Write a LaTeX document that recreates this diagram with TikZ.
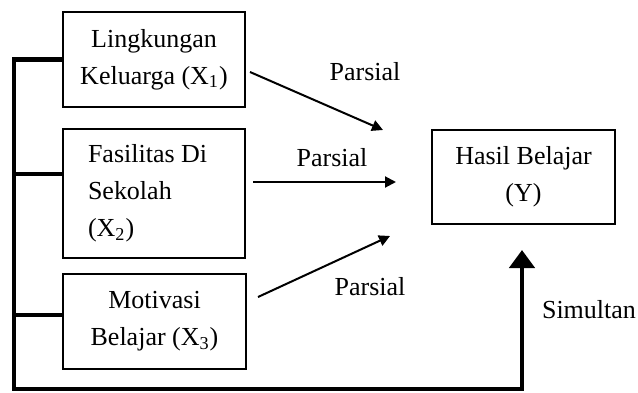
\documentclass[tikz,border=0pt]{standalone}
\usepackage{fontspec}
\setmainfont{Liberation Serif}
\usetikzlibrary{arrows.meta}
\begin{document}
\begin{tikzpicture}[x=0.5pt,y=-0.5pt,
    every node/.style={font=\fontsize{13}{18.5}\selectfont},
    box/.style={draw,line width=0.75pt,inner sep=0pt,align=center},
    partial/.style={line width=1pt,-{Triangle[length=5.5pt,width=5.5pt]}},
    bus/.style={line width=2.4pt,line join=miter}]

\useasboundingbox (0,0) rectangle (638,392);

% Variables
\node[box,minimum width=91pt,minimum height=47.5pt] (x1) at (154,59.5)
  {Lingkungan\\Keluarga (X\textsubscript{1})};
\node[box,text width=66pt,align=flush left,inner xsep=12.5pt,minimum height=64.5pt] (x2) at (154,193.5)
  {Fasilitas Di\\Sekolah\\(X\textsubscript{2})};
\node[box,minimum width=91.5pt,minimum height=47.5pt] (x3) at (154.5,321.5)
  {Motivasi\\Belajar (X\textsubscript{3})};

% Result
\node[box,minimum width=91.5pt,minimum height=47pt] (y) at (523.5,177)
  {Hasil Belajar\\(Y)};

% Partial arrows
\coordinate (p1a) at (250,72);
\coordinate (p1b) at (383,130);
\coordinate (p2a) at (253,182);
\coordinate (p2b) at (396,182);
\coordinate (p3a) at (258,297);
\coordinate (p3b) at (390,236);
\draw[partial] (p1a) -- (p1b);
\draw[partial] (p2a) -- (p2b);
\draw[partial] (p3a) -- (p3b);

\node (l1) at (365,72) {Parsial};
\node (l2) at (332,158) {Parsial};
\node (l3) at (370,287) {Parsial};

% Simultaneous bus
\coordinate (tl) at (14,59.5);
\coordinate (bl) at (14,389);
\coordinate (br) at (522,389);
\coordinate (tip) at (522,250);
\coordinate (j2) at (14,174);
\coordinate (j3) at (14,315);
\draw[bus,-{Triangle[length=9pt,width=12.5pt]}] (x1.west) -- (tl) -- (bl) -- (br) -- (tip);
\draw[bus] (j2) -- (j2 -| x2.west);
\draw[bus] (j3) -- (j3 -| x3.west);

\node (s) at (589,310) {Simultan};

\end{tikzpicture}
\end{document}
